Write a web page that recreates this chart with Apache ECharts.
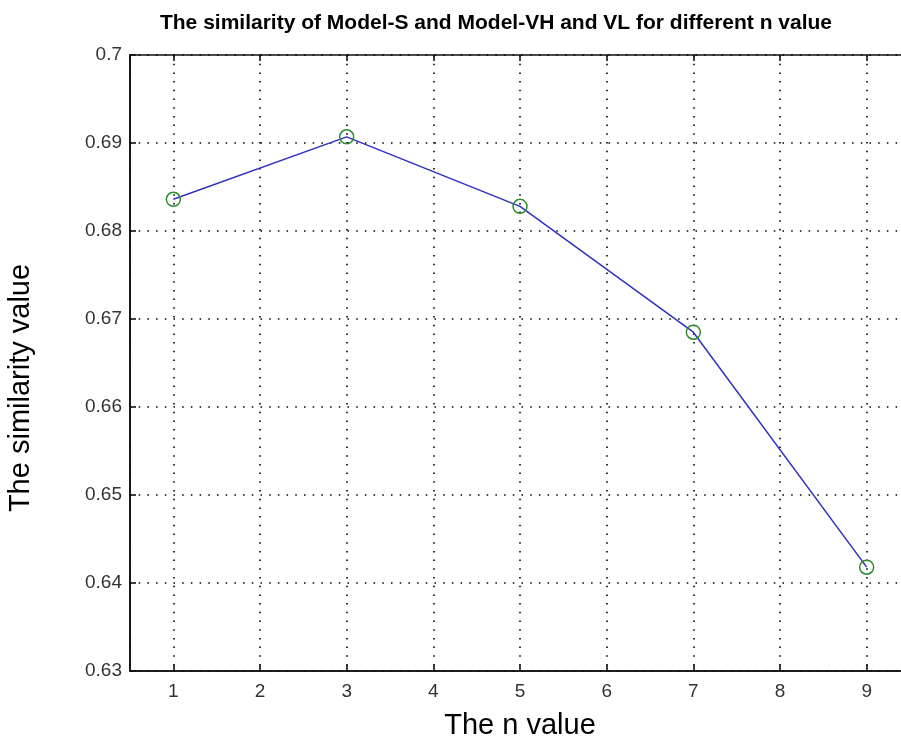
<!DOCTYPE html>
<html>
<head>
<meta charset="utf-8">
<script src="https://cdn.jsdelivr.net/npm/echarts@6/dist/echarts.min.js"></script>
<style>
  html, body { margin: 0; padding: 0; background: #fff; }
  #chart { width: 901px; height: 748px; }
</style>
</head>
<body>
<div id="chart"></div>
<script>
// n values and the similarity
var nValues = [1, 3, 5, 7, 9];
var similarity = [0.6836, 0.6907, 0.6828, 0.6685, 0.6418];

var points = nValues.map(function (n, i) { return [n, similarity[i]]; });

var font = 'Liberation Sans, Arial, sans-serif';
var dotted = { show: true, lineStyle: { color: '#000', type: [1.5, 7.2], width: 1.6 } };
var tickStyle = { color: '#111', width: 1.6 };

var option = {
  animation: false,
  backgroundColor: '#fff',
  title: {
    text: 'The similarity of Model-S and Model-VH and VL for different n value',
    left: 491,
    textAlign: 'center',
    top: 8,
    textStyle: { fontFamily: font, fontSize: 21, fontWeight: 'bold', color: '#000' }
  },
  grid: {
    left: 130, width: 780, top: 55, height: 616,
    outerBoundsMode: 'none',
    containLabel: false,
    show: true, borderColor: '#111', borderWidth: 1.6
  },
  xAxis: [{
    type: 'value',
    min: 0.5, max: 9.5, splitNumber: 9,
    name: 'The n value',
    nameLocation: 'middle',
    nameGap: 40,
    nameTextStyle: { fontFamily: font, fontSize: 29, color: '#000' },
    axisLine: { onZero: false, lineStyle: tickStyle },
    axisTick: { inside: true, length: 6, lineStyle: tickStyle },
    axisLabel: {
      showMinLabel: false, showMaxLabel: false,
      fontFamily: font, fontSize: 19, color: '#333', margin: 11
    },
    splitLine: dotted
  }, {
    type: 'value', position: 'top',
    min: 0.5, max: 9.5, splitNumber: 9,
    axisLine: { show: false },
    axisTick: { inside: true, length: 6, lineStyle: tickStyle },
    axisLabel: { show: false },
    splitLine: { show: false }
  }],
  yAxis: [{
    type: 'value',
    min: 0.63, max: 0.7, interval: 0.01,
    name: 'The similarity value',
    nameLocation: 'middle',
    nameGap: 95,
    nameTextStyle: { fontFamily: font, fontSize: 29, color: '#000', padding: [0, 50, 0, 0] },
    axisLine: { show: true, lineStyle: tickStyle },
    axisTick: { show: true, inside: true, length: 6, lineStyle: tickStyle },
    axisLabel: {
      fontFamily: font, fontSize: 19, color: '#333', margin: 8,
      formatter: function (v) { return String(+v.toFixed(2)); }
    },
    splitLine: dotted
  }],
  series: [{
    type: 'line',
    data: points,
    symbol: 'circle',
    symbolSize: 14,
    lineStyle: { color: '#3030c0', width: 1.5 },
    itemStyle: { color: 'rgba(0,0,0,0)', borderColor: '#2e8b2e', borderWidth: 1.5 },
    z: 5
  }]
};

var chart = echarts.init(document.getElementById('chart'), null, { renderer: 'canvas' });
chart.setOption(option);
</script>
</body>
</html>
